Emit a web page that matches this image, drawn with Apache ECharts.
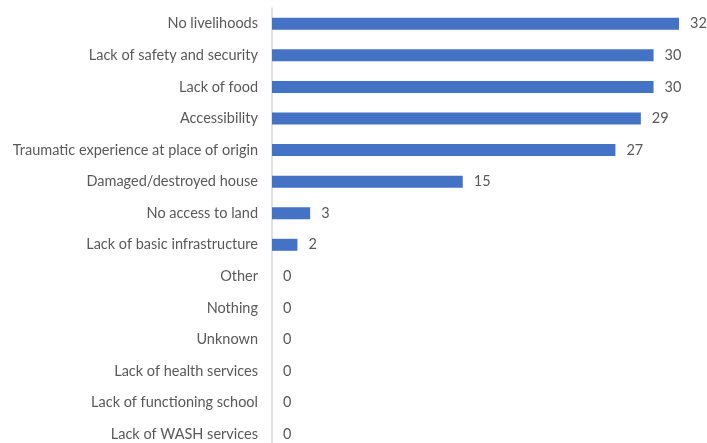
<!DOCTYPE html>
<html>
<head>
<meta charset="utf-8">
<style>
  html, body { margin: 0; padding: 0; background: #ffffff; overflow: hidden; }
  #chart { width: 707px; height: 460px; }
</style>
<script src="https://cdn.jsdelivr.net/npm/echarts@6/dist/echarts.min.js"></script>
</head>
<body>
<div id="chart"></div>
<script>
// Reasons reported, listed top to bottom
const categories = [
  'No livelihoods',
  'Lack of safety and security',
  'Lack of food',
  'Accessibility',
  'Traumatic experience at place of origin',
  'Damaged/destroyed house',
  'No access to land',
  'Lack of basic infrastructure',
  'Other',
  'Nothing',
  'Unknown',
  'Lack of health services',
  'Lack of functioning school',
  'Lack of WASH services'
];
const counts = [32, 30, 30, 29, 27, 15, 3, 2, 0, 0, 0, 0, 0, 0];

const chart = echarts.init(document.getElementById('chart'), null, { renderer: 'canvas' });
const font = 'Lato, "Open Sans", sans-serif';

// The plot runs slightly past the bottom edge of the view, so the
// axis line reaches the frame's bottom border.
chart.setOption({
  animation: false,
  backgroundColor: '#ffffff',
  grid: { left: 272, right: 28, top: 8, height: 442, containLabel: false },
  xAxis: {
    type: 'value',
    min: 0,
    max: 32,
    show: false
  },
  yAxis: {
    type: 'category',
    inverse: true,
    data: categories,
    axisLine: { show: true, lineStyle: { color: '#d9d9d9', width: 1.5 } },
    axisTick: { show: false },
    axisLabel: { color: '#595959', fontSize: 14.5, fontFamily: font, margin: 14 },
    splitLine: { show: false }
  },
  series: [{
    type: 'bar',
    data: counts,
    barWidth: 12,
    itemStyle: { color: '#4472c4' },
    label: {
      show: true,
      position: 'right',
      distance: 11,
      color: '#595959',
      fontSize: 14.5,
      fontFamily: font
    }
  }]
});
</script>
</body>
</html>
